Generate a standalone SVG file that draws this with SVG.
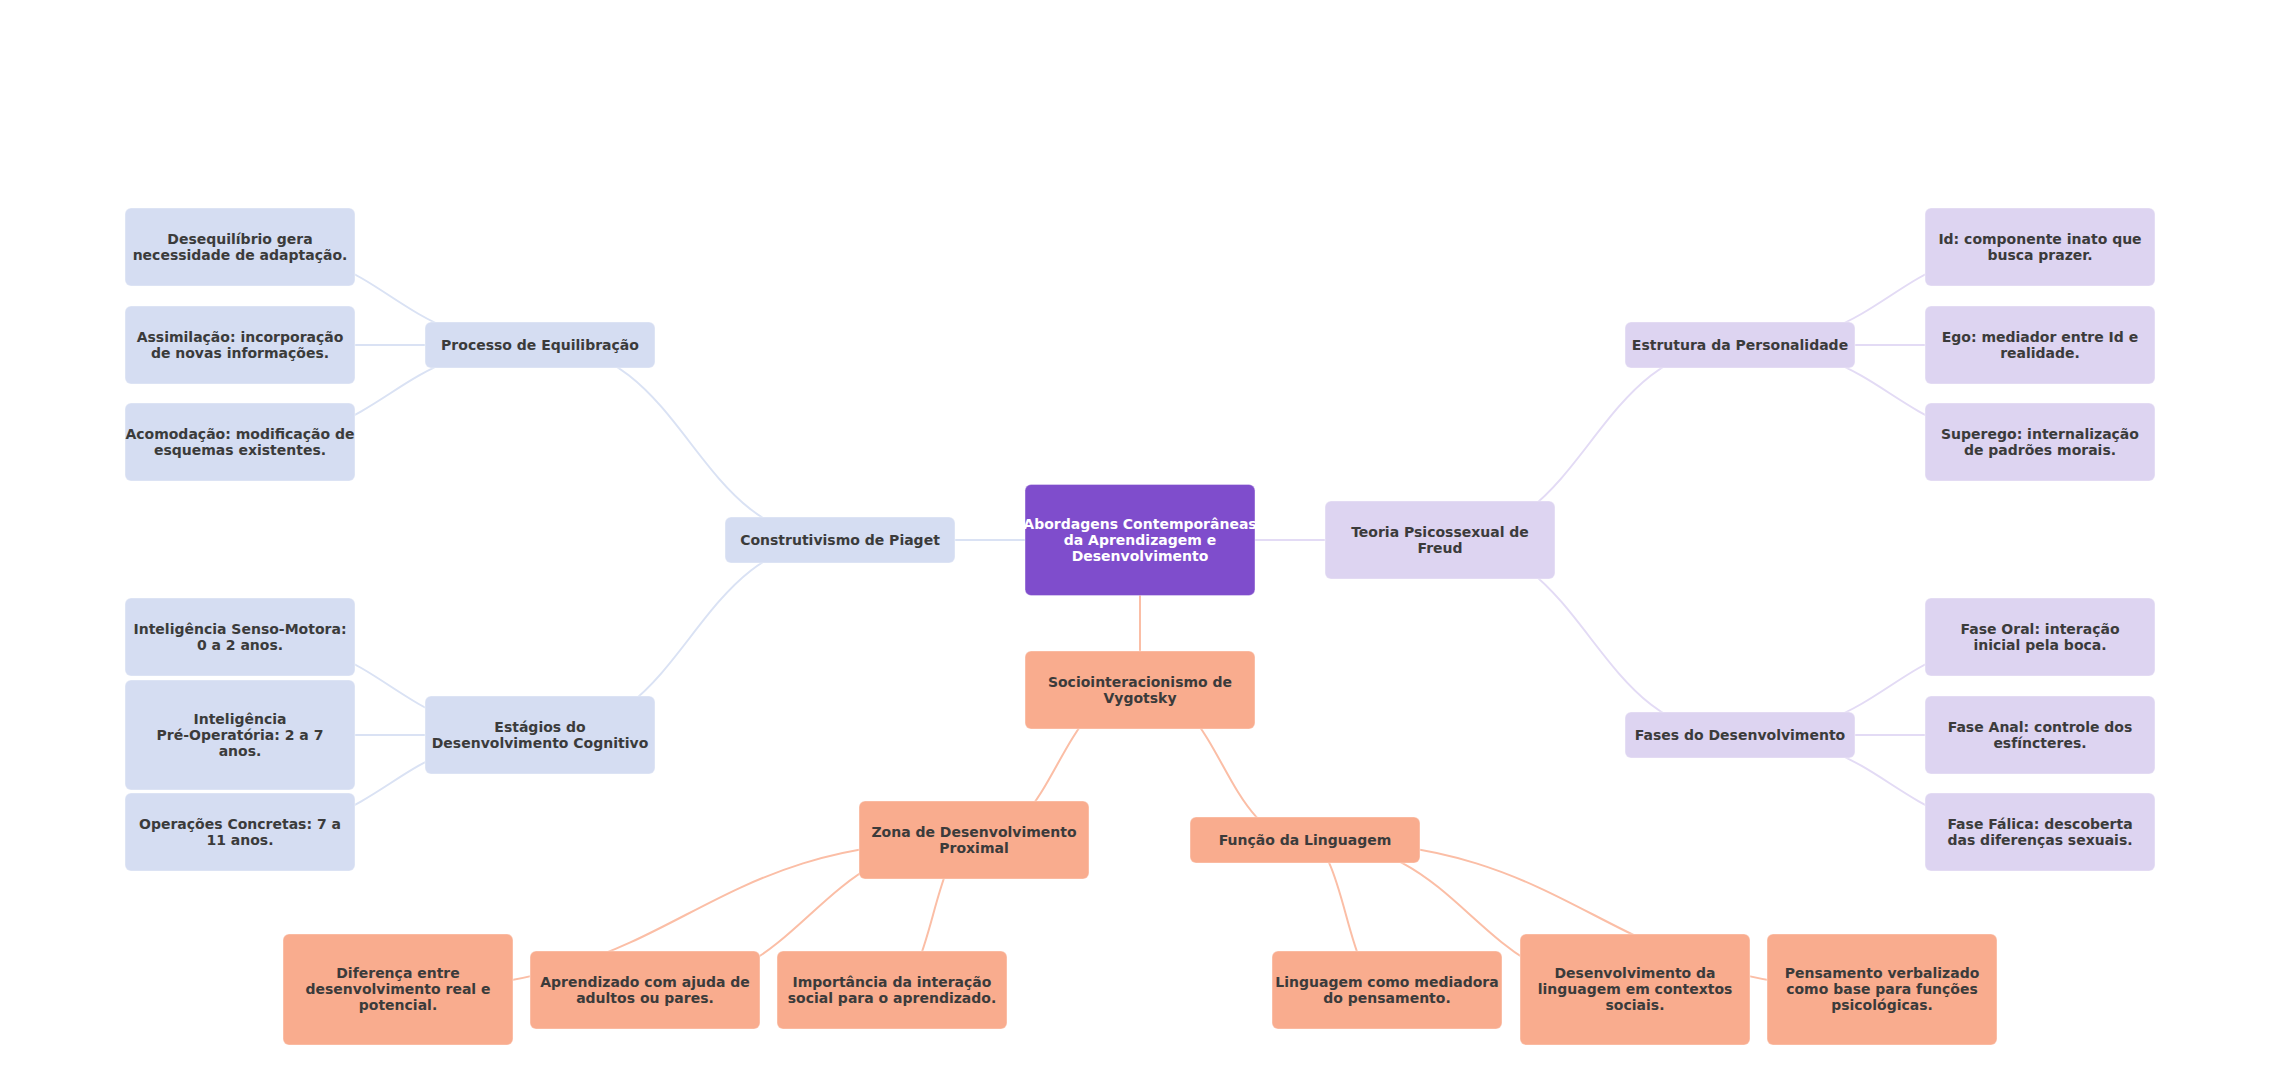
<svg xmlns="http://www.w3.org/2000/svg" width="2280" height="1080" viewBox="0 0 2280 1080">
<style>
text{font-family:"DejaVu Sans","Liberation Sans",sans-serif;font-weight:bold;font-size:14px;fill:#3b3b3b;text-anchor:middle}
.c text{fill:#ffffff}
rect{rx:6;ry:6;stroke:#ffffff;stroke-opacity:0.35;stroke-width:1.2}
.p rect{fill:#d5ddf2}
.f rect{fill:#ddd4f1}
.v rect{fill:#f9ac8e}
.c rect{fill:#7f4dcc}
#edges path{fill:none;stroke-width:2}
.ep{stroke:#dae2f4}
.ef{stroke:#e3dbf5}
.ev{stroke:#fbbea6}
</style>
<rect x="0" y="0" width="2280" height="1080" style="fill:#ffffff;stroke:none"/>
<g id="edges">
<path class="ep" d="M1140 540 L840 540"/>
<path class="ep" d="M840 540 C690 540 690 345 540 345"/>
<path class="ep" d="M840 540 C690 540 690 735 540 735"/>
<path class="ep" d="M540 345 C390 345 390 247 240 247"/>
<path class="ep" d="M540 345 L240 345"/>
<path class="ep" d="M540 345 C390 345 390 442 240 442"/>
<path class="ep" d="M540 735 C390 735 390 637 240 637"/>
<path class="ep" d="M540 735 L240 735"/>
<path class="ep" d="M540 735 C390 735 390 832 240 832"/>
<path class="ef" d="M1140 540 L1440 540"/>
<path class="ef" d="M1440 540 C1590 540 1590 345 1740 345"/>
<path class="ef" d="M1440 540 C1590 540 1590 735 1740 735"/>
<path class="ef" d="M1740 345 C1890 345 1890 247 2040 247"/>
<path class="ef" d="M1740 345 L2040 345"/>
<path class="ef" d="M1740 345 C1890 345 1890 442 2040 442"/>
<path class="ef" d="M1740 735 C1890 735 1890 637 2040 637"/>
<path class="ef" d="M1740 735 L2040 735"/>
<path class="ef" d="M1740 735 C1890 735 1890 832 2040 832"/>
<path class="ev" d="M1140 540 L1140 690"/>
<path class="ev" d="M1140 690 C1057 690 1057 840 974 840"/>
<path class="ev" d="M1140 690 C1222.5 690 1222.5 840 1305 840"/>
<path class="ev" d="M974 840 C686 840 686 989.5 398 989.5"/>
<path class="ev" d="M974 840 C809.5 840 809.5 990 645 990"/>
<path class="ev" d="M974 840 C933 840 933 990 892 990"/>
<path class="ev" d="M1305 840 C1346 840 1346 990 1387 990"/>
<path class="ev" d="M1305 840 C1470 840 1470 989.5 1635 989.5"/>
<path class="ev" d="M1305 840 C1593.5 840 1593.5 989.5 1882 989.5"/>
</g>
<g id="central" class="c"><rect x="1025" y="484.5" width="230" height="111"/><text x="1140" y="529">Abordagens Contemporâneas</text><text x="1140" y="545">da Aprendizagem e</text><text x="1140" y="561">Desenvolvimento</text></g>
<g id="piaget" class="p"><rect x="725" y="517" width="230" height="46"/><text x="840" y="545">Construtivismo de Piaget</text></g>
<g id="freud" class="f"><rect x="1325" y="501" width="230" height="78"/><text x="1440" y="537">Teoria Psicossexual de</text><text x="1440" y="553">Freud</text></g>
<g id="vygotsky" class="v"><rect x="1025" y="651" width="230" height="78"/><text x="1140" y="687">Sociointeracionismo de</text><text x="1140" y="703">Vygotsky</text></g>
<g id="equilibracao" class="p"><rect x="425" y="322" width="230" height="46"/><text x="540" y="350">Processo de Equilibração</text></g>
<g id="estagios" class="p"><rect x="425" y="696" width="230" height="78"/><text x="540" y="732">Estágios do</text><text x="540" y="748">Desenvolvimento Cognitivo</text></g>
<g id="personalidade" class="f"><rect x="1625" y="322" width="230" height="46"/><text x="1740" y="350">Estrutura da Personalidade</text></g>
<g id="fases" class="f"><rect x="1625" y="712" width="230" height="46"/><text x="1740" y="740">Fases do Desenvolvimento</text></g>
<g id="zdp" class="v"><rect x="859" y="801" width="230" height="78"/><text x="974" y="837">Zona de Desenvolvimento</text><text x="974" y="853">Proximal</text></g>
<g id="linguagem" class="v"><rect x="1190" y="817" width="230" height="46"/><text x="1305" y="845">Função da Linguagem</text></g>
<g id="desequilibrio" class="p"><rect x="125" y="208" width="230" height="78"/><text x="240" y="244">Desequilíbrio gera</text><text x="240" y="260">necessidade de adaptação.</text></g>
<g id="assimilacao" class="p"><rect x="125" y="306" width="230" height="78"/><text x="240" y="342">Assimilação: incorporação</text><text x="240" y="358">de novas informações.</text></g>
<g id="acomodacao" class="p"><rect x="125" y="403" width="230" height="78"/><text x="240" y="439">Acomodação: modificação de</text><text x="240" y="455">esquemas existentes.</text></g>
<g id="sensomotora" class="p"><rect x="125" y="598" width="230" height="78"/><text x="240" y="634">Inteligência Senso-Motora:</text><text x="240" y="650">0 a 2 anos.</text></g>
<g id="preoperatoria" class="p"><rect x="125" y="680" width="230" height="110"/><text x="240" y="724">Inteligência</text><text x="240" y="740">Pré-Operatória: 2 a 7</text><text x="240" y="756">anos.</text></g>
<g id="concretas" class="p"><rect x="125" y="793" width="230" height="78"/><text x="240" y="829">Operações Concretas: 7 a</text><text x="240" y="845">11 anos.</text></g>
<g id="id" class="f"><rect x="1925" y="208" width="230" height="78"/><text x="2040" y="244">Id: componente inato que</text><text x="2040" y="260">busca prazer.</text></g>
<g id="ego" class="f"><rect x="1925" y="306" width="230" height="78"/><text x="2040" y="342">Ego: mediador entre Id e</text><text x="2040" y="358">realidade.</text></g>
<g id="superego" class="f"><rect x="1925" y="403" width="230" height="78"/><text x="2040" y="439">Superego: internalização</text><text x="2040" y="455">de padrões morais.</text></g>
<g id="oral" class="f"><rect x="1925" y="598" width="230" height="78"/><text x="2040" y="634">Fase Oral: interação</text><text x="2040" y="650">inicial pela boca.</text></g>
<g id="anal" class="f"><rect x="1925" y="696" width="230" height="78"/><text x="2040" y="732">Fase Anal: controle dos</text><text x="2040" y="748">esfíncteres.</text></g>
<g id="falica" class="f"><rect x="1925" y="793" width="230" height="78"/><text x="2040" y="829">Fase Fálica: descoberta</text><text x="2040" y="845">das diferenças sexuais.</text></g>
<g id="diferenca" class="v"><rect x="283" y="934" width="230" height="111"/><text x="398" y="978">Diferença entre</text><text x="398" y="994">desenvolvimento real e</text><text x="398" y="1010">potencial.</text></g>
<g id="aprendizado" class="v"><rect x="530" y="951" width="230" height="78"/><text x="645" y="987">Aprendizado com ajuda de</text><text x="645" y="1003">adultos ou pares.</text></g>
<g id="importancia" class="v"><rect x="777" y="951" width="230" height="78"/><text x="892" y="987">Importância da interação</text><text x="892" y="1003">social para o aprendizado.</text></g>
<g id="mediadora" class="v"><rect x="1272" y="951" width="230" height="78"/><text x="1387" y="987">Linguagem como mediadora</text><text x="1387" y="1003">do pensamento.</text></g>
<g id="contextos" class="v"><rect x="1520" y="934" width="230" height="111"/><text x="1635" y="978">Desenvolvimento da</text><text x="1635" y="994">linguagem em contextos</text><text x="1635" y="1010">sociais.</text></g>
<g id="verbalizado" class="v"><rect x="1767" y="934" width="230" height="111"/><text x="1882" y="978">Pensamento verbalizado</text><text x="1882" y="994">como base para funções</text><text x="1882" y="1010">psicológicas.</text></g>
</svg>
